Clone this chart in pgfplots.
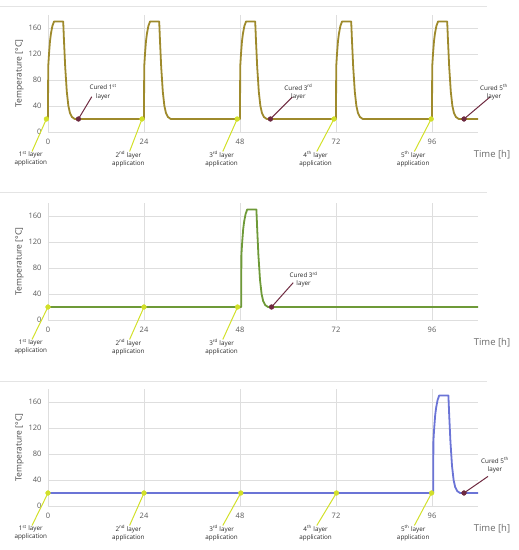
\documentclass[border=0pt]{standalone}
\usepackage{fontspec}
\setmainfont{Open Sans}
\usepackage{pgfplots}
\pgfplotsset{compat=1.18}

\definecolor{gridc}{HTML}{DEDEDE}
\definecolor{tickc}{HTML}{595959}
\definecolor{olivec}{HTML}{9E8A2C}
\definecolor{greenc}{HTML}{6E9A38}
\definecolor{bluec}{HTML}{6B74D6}
\definecolor{applc}{HTML}{D2E02A}
\definecolor{curc}{HTML}{6E2A40}

\pgfplotsset{
  panel/.style={
    scale only axis, width=430pt, height=117pt, anchor=south west,
    xmin=0, xmax=107.5, ymin=0, ymax=180,
    xtick={0,24,48,72,96}, ytick={0,40,80,120,160},
    grid=major, grid style={draw=gridc, line width=0.6pt},
    axis line style={draw=none}, major tick length=0pt,
    clip=false,
    /pgf/number format/assume math mode=true,
    tick label style={font=\fontsize{7.5}{9}\selectfont, text=tickc},
    xticklabel style={yshift=-4pt},
    yticklabel style={xshift=-3pt},
    ylabel={Temperature [°C]},
    ylabel style={font=\fontsize{8.5}{10}\selectfont, text=tickc!80!black, yshift=-2pt},
  },
  curve/.style={line width=1.8pt, line join=round},
}
\tikzset{lbl/.style={align=center, inner sep=0pt, text=black!85,
  font=\fontsize{6.3}{8.3}\selectfont}}

% application label: dot x, line end x, label x, text
\newcommand{\appl}[4]{%
  \draw[applc, line width=1pt] (axis cs:#1,20) -- ([yshift=-19.5pt]axis cs:#2,0);
  \node[lbl, anchor=north] at ([yshift=-19pt]axis cs:#3,0) {#4};}
% cured label: dot x, line dx, line dy, label dx, label dy, text
\newcommand{\cured}[6]{%
  \draw[curc, line width=1pt] (axis cs:#1,20) -- ([shift={(#2pt,#3pt)}]axis cs:#1,20);
  \node[lbl] at ([shift={(#4pt,#5pt)}]axis cs:#1,20) {#6};}
\newcommand{\timelabel}{%
  \node[text=tickc!90, font=\fontsize{9.5}{11}\selectfont] at ([shift={(14pt,-23pt)}]rel axis cs:1,0) {Time [h]};}

\begin{document}
\begin{tikzpicture}
\path[use as bounding box] (0,0) rectangle (519pt,550pt);
\foreach \yy in {544,358,169} \draw[gridc!80, line width=0.6pt] (0pt,\yy pt) -- (487pt,\yy pt);

% ---------- panel 1: all five layers ----------
\begin{axis}[panel, at={(48pt,418pt)}]
\addplot[curve, olivec] coordinates {
  (0,20) (0.05,100) (0.25,120) (0.5,140) (0.75,152) (1.1,163) (1.5,170) (3.8,170)
  (4.0,140) (4.3,100) (4.7,62) (5.1,40) (5.5,29) (6.0,23) (6.7,20)
  (24,20) (24.05,100) (24.25,120) (24.5,140) (24.75,152) (25.1,163) (25.5,170) (27.8,170)
  (28.0,140) (28.3,100) (28.7,62) (29.1,40) (29.5,29) (30.0,23) (30.7,20)
  (48,20) (48.05,100) (48.25,120) (48.5,140) (48.75,152) (49.1,163) (49.5,170) (51.8,170)
  (52.0,140) (52.3,100) (52.7,62) (53.1,40) (53.5,29) (54.0,23) (54.7,20)
  (72,20) (72.05,100) (72.25,120) (72.5,140) (72.75,152) (73.1,163) (73.5,170) (75.8,170)
  (76.0,140) (76.3,100) (76.7,62) (77.1,40) (77.5,29) (78.0,23) (78.7,20)
  (96,20) (96.05,100) (96.25,120) (96.5,140) (96.75,152) (97.1,163) (97.5,170) (99.8,170)
  (100.0,140) (100.3,100) (100.7,62) (101.1,40) (101.5,29) (102.0,23) (102.7,20)
  (107.5,20)
};
\appl{-0.4}{-4.0}{-4.3}{1\textsuperscript{st} layer\\application}
\appl{23.5}{20.4}{20.1}{2\textsuperscript{nd} layer\\application}
\appl{47.3}{43.7}{43.4}{3\textsuperscript{rd} layer\\application}
\appl{71.5}{67.2}{66.9}{4\textsuperscript{th} layer\\application}
\appl{95.8}{91.6}{91.3}{5\textsuperscript{th} layer\\application}
\cured{7.6}{13.4}{22.3}{24.7}{27}{Cured 1\textsuperscript{st}\\layer}
\cured{55.6}{22}{22}{28}{27}{Cured 3\textsuperscript{rd}\\layer}
\cured{104}{26}{22}{30}{27}{Cured 5\textsuperscript{th}\\layer}
\addplot[only marks, mark=*, mark size=2.4pt, applc] coordinates {(-0.4,20) (23.5,20) (47.3,20) (71.5,20) (95.8,20)};
\addplot[only marks, mark=*, mark size=2.4pt, curc] coordinates {(7.6,20) (55.6,20) (104,20)};
\timelabel
\end{axis}

% ---------- panel 2: third layer only ----------
\begin{axis}[panel, at={(48pt,230pt)}]
\addplot[curve, greenc] coordinates {
  (0,20) (48.3,20) (48.35,100) (48.55,120) (48.8,140) (49.05,152) (49.4,163) (49.8,170) (52.1,170)
  (52.3,140) (52.6,100) (53.0,62) (53.4,40) (53.8,29) (54.3,23) (55.0,20)
  (107.5,20)
};
\appl{0}{-4.0}{-4.3}{1\textsuperscript{st} layer\\application}
\appl{24}{20.4}{20.1}{2\textsuperscript{nd} layer\\application}
\appl{47.4}{43.7}{43.4}{3\textsuperscript{rd} layer\\application}
\cured{55.9}{21.6}{24.3}{32}{27.5}{Cured 3\textsuperscript{rd}\\layer}
\addplot[only marks, mark=*, mark size=2.4pt, applc] coordinates {(0,20) (24,20) (47.4,20)};
\addplot[only marks, mark=*, mark size=2.4pt, curc] coordinates {(55.9,20)};
\timelabel
\end{axis}

% ---------- panel 3: fifth layer only ----------
\begin{axis}[panel, at={(48pt,44pt)}]
\addplot[curve, bluec] coordinates {
  (0,20) (96.3,20) (96.35,100) (96.55,120) (96.8,140) (97.05,152) (97.4,163) (97.8,170) (100.1,170)
  (100.3,140) (100.6,100) (101.0,62) (101.4,40) (101.8,29) (102.3,23) (103.0,20)
  (107.5,20)
};
\appl{0}{-4.0}{-4.3}{1\textsuperscript{st} layer\\application}
\appl{24}{20.4}{20.1}{2\textsuperscript{nd} layer\\application}
\appl{48.2}{43.7}{43.4}{3\textsuperscript{rd} layer\\application}
\appl{72.1}{67.2}{66.9}{4\textsuperscript{th} layer\\application}
\appl{95.9}{91.6}{91.3}{5\textsuperscript{th} layer\\application}
\cured{104}{24}{16.6}{31}{28}{Cured 5\textsuperscript{th}\\layer}
\addplot[only marks, mark=*, mark size=2.4pt, applc] coordinates {(0,20) (24,20) (48.2,20) (72.1,20) (95.9,20)};
\addplot[only marks, mark=*, mark size=2.4pt, curc] coordinates {(104,20)};
\timelabel
\end{axis}
\end{tikzpicture}
\end{document}
